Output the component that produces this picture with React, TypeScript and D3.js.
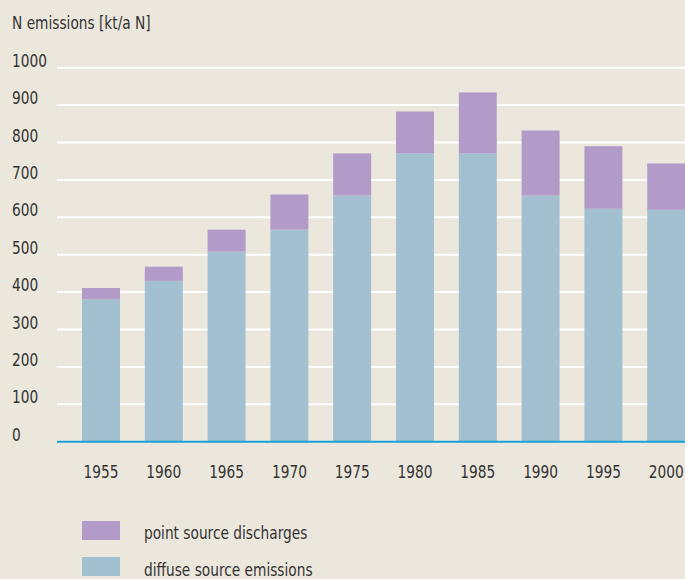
import React from "react";
import * as d3 from "d3";

const years = ["1955", "1960", "1965", "1970", "1975", "1980", "1985", "1990", "1995", "2000"];
const diffuse = [381, 430, 508, 567, 658, 771, 771, 658, 623, 620];
const pointSource = [30, 38, 59, 94, 113, 112, 163, 174, 167, 124];
const yTicks = [0, 100, 200, 300, 400, 500, 600, 700, 800, 900, 1000];
const seriesNames = ["point source discharges", "diffuse source emissions"];

const W = 685;
const H = 579;
const BG = "#ece7dc";
const PURPLE = "#b39bc9";
const BLUE = "#a2c0d0";
const TEXT = "#333333";
const FONT = "'DejaVu Sans', sans-serif";
const SX = 0.785;

function T({ x, y, children, anchor = "start" }: { x: number; y: number; children: React.ReactNode; anchor?: string }) {
  return (
    <text
      transform={`translate(${x},${y}) scale(${SX},1)`}
      fontSize={17.5}
      fill={TEXT}
      textAnchor={anchor}
    >
      {children}
    </text>
  );
}

export default function App() {
  const y = d3.scaleLinear().domain([0, 1000]).range([441.7, 67.7]);
  const x = d3
    .scaleBand<string>()
    .domain(years)
    .range([69.6, 697.6])
    .paddingInner(0.395)
    .paddingOuter(0.1975);

  const data = years.map((yr, i) => ({ yr, d: diffuse[i], p: pointSource[i] }));

  return (
    <svg
      width={W}
      height={H}
      style={{ position: "absolute", left: 0, top: 0, display: "block" }}
      fontFamily={FONT}
    >
      <rect x={0} y={0} width={W} height={H} fill={BG} />
      <T x={12} y={29}>N emissions [kt/a N]</T>
      {yTicks.map((t) => (
        <g key={t}>
          {t > 0 && (
            <line x1={57} x2={W} y1={y(t)} y2={y(t)} stroke="#ffffff" strokeWidth={2} />
          )}
          <T x={12} y={y(t) - 1}>{t}</T>
        </g>
      ))}
      {data.map((dd) => (
        <g key={dd.yr}>
          <rect
            x={x(dd.yr)}
            width={x.bandwidth()}
            y={y(dd.d)}
            height={y(0) - y(dd.d)}
            fill={BLUE}
          />
          <rect
            x={x(dd.yr)}
            width={x.bandwidth()}
            y={y(dd.d + dd.p)}
            height={y(dd.d) - y(dd.d + dd.p)}
            fill={PURPLE}
          />
          <T x={(x(dd.yr) as number) + x.bandwidth() / 2} y={478} anchor="middle">
            {dd.yr}
          </T>
        </g>
      ))}
      <line x1={57} x2={W} y1={y(0)} y2={y(0)} stroke="#1a9fd8" strokeWidth={2} />
      <rect x={82} y={521} width={38} height={19} fill={PURPLE} />
      <T x={144} y={539}>{seriesNames[0]}</T>
      <rect x={82} y={557} width={38} height={19} fill={BLUE} />
      <T x={144} y={576}>{seriesNames[1]}</T>
    </svg>
  );
}
